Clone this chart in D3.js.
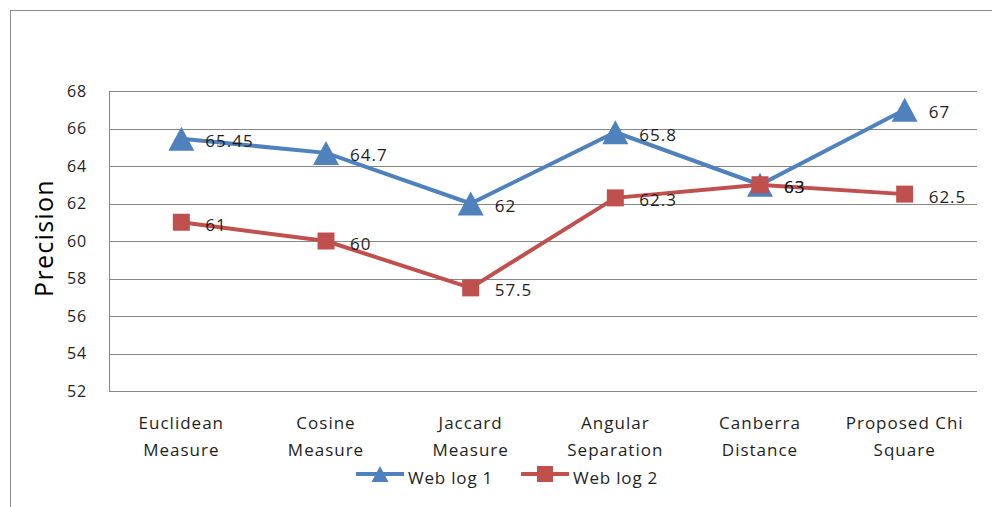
<!DOCTYPE html>
<html><head><meta charset="utf-8">
<script src="https://cdn.jsdelivr.net/npm/d3@7"></script>
<style>body{margin:0;background:#fff}svg{display:block}</style>
</head><body>
<svg id="c" width="992" height="507"></svg>
<script>
const categories = [["Euclidean","Measure"],["Cosine","Measure"],["Jaccard","Measure"],["Angular","Separation"],["Canberra","Distance"],["Proposed Chi","Square"]];
const weblog1 = [65.45, 64.7, 62, 65.8, 63, 67];
const weblog2 = [61, 60, 57.5, 62.3, 63, 62.5];
const yTicks = [52,54,56,58,60,62,64,66,68];
const seriesNames = ["Web log 1","Web log 2"];

const font = "'Open Sans', 'Liberation Sans', sans-serif";
const txt = "#1e1e1e";
const svg = d3.select("#c");
svg.append("rect").attr("x",10.5).attr("y",10.5).attr("width",1000).attr("height",1000)
  .attr("fill","none").attr("stroke","#8c8c8c");

const L=109, R=977, T=91, B=391;
const x = d3.scaleBand().domain(d3.range(categories.length)).range([L,R]);
const y = d3.scaleLinear().domain([52,68]).range([B,T]);
const cx = i => x(i)+x.bandwidth()/2;

const g = svg.append("g");
g.selectAll(".grid").data(yTicks).join("line")
  .attr("x1",L).attr("x2",R).attr("y1",d=>Math.round(y(d))+0.5).attr("y2",d=>Math.round(y(d))+0.5)
  .attr("stroke","#868686").attr("stroke-width",1);
g.append("line").attr("x1",L+0.5).attr("x2",L+0.5).attr("y1",T).attr("y2",B).attr("stroke","#868686");

const yAxis = d3.axisLeft(y).tickValues(yTicks).tickSize(0).tickPadding(0);
const ya = svg.append("g").attr("transform",`translate(${L-22},0)`).call(yAxis);
ya.select(".domain").remove();
ya.selectAll("text").attr("font-family",font).attr("font-size",16).attr("letter-spacing",0.8).attr("fill",txt);

svg.append("text").attr("transform","translate(53,238) rotate(-90)").attr("text-anchor","middle")
  .attr("font-family",font).attr("font-size",25).attr("letter-spacing",1.3).attr("fill","#000").text("Precision");

// x labels
const xl = svg.append("g");
categories.forEach((c,i)=>{
  c.forEach((t,j)=>{
    xl.append("text").attr("x",cx(i)).attr("y",429+j*27).attr("text-anchor","middle")
      .attr("font-family",font).attr("font-size",17).attr("letter-spacing",1).attr("fill",txt).text(t);
  });
});

const colors = ["#4F81BD","#C0504D"];
const line = d3.line().x((d,i)=>cx(i)).y(d=>y(d));
const triPath = (w,h)=>`M0,${-h/2}L${w/2},${h/2}L${-w/2},${h/2}Z`;
const sqPath = s=>`M${-s/2},${-s/2}h${s}v${s}h${-s}Z`;

[weblog1, weblog2].forEach((s,k)=>{
  svg.append("path").attr("d",line(s)).attr("fill","none").attr("stroke",colors[k]).attr("stroke-width",4);
});
[weblog1, weblog2].forEach((s,k)=>{
  svg.selectAll(".m"+k).data(s).join("path")
    .attr("transform",(d,i)=>`translate(${cx(i)},${y(d)})`)
    .attr("d",k===0?triPath(26,24):sqPath(17)).attr("fill",colors[k]);
});
[weblog1, weblog2].forEach((s,k)=>{
  svg.selectAll(".l"+k).data(s).join("text")
    .attr("x",(d,i)=>cx(i)+24).attr("y",(d)=>y(d)+8.5)
    .attr("font-family",font).attr("font-size",17).attr("letter-spacing",1).attr("fill",txt).text(d=>d);
});

// legend
const lg = svg.append("g");
const lx = [356, 521];
seriesNames.forEach((n,k)=>{
  lg.append("line").attr("x1",lx[k]).attr("x2",lx[k]+48).attr("y1",474).attr("y2",474)
    .attr("stroke",colors[k]).attr("stroke-width",4);
  lg.append("path").attr("transform",`translate(${lx[k]+24},${474})`)
    .attr("d",k===0?triPath(17,16):sqPath(16))
    .attr("fill",colors[k]);
  lg.append("text").attr("x",lx[k]+52).attr("y",484).attr("font-family",font).attr("font-size",17)
    .attr("letter-spacing",0.8).attr("fill",txt).text(n);
});
</script>
</body></html>
